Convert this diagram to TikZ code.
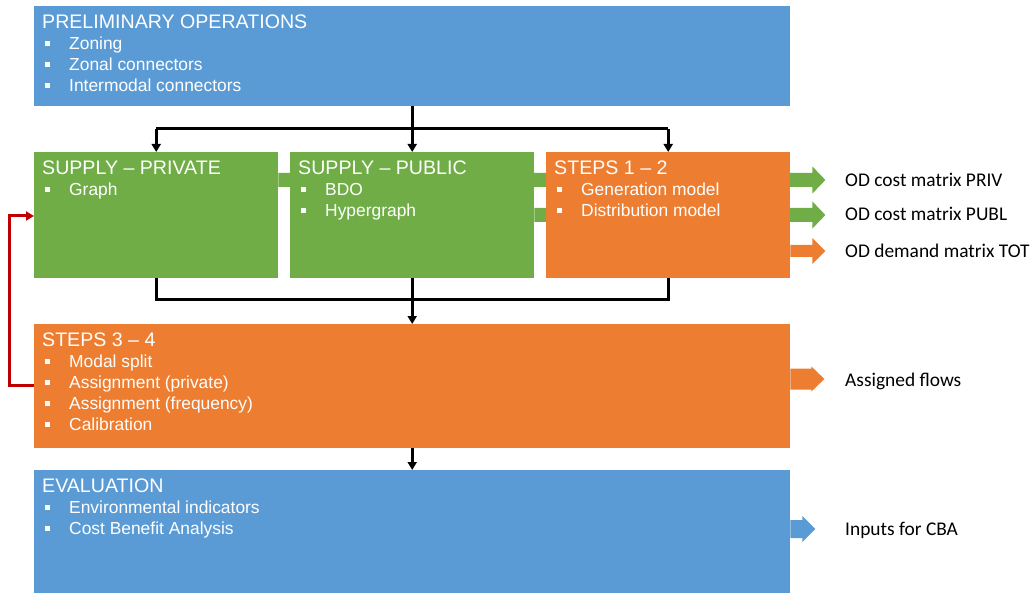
\documentclass[tikz,border=0pt]{standalone}
\usepackage{fontspec}
\setmainfont{Liberation Sans}
\newfontfamily\calibrifont{Carlito}
\usetikzlibrary{arrows.meta,positioning,backgrounds}
\definecolor{planblue}{RGB}{91,155,213}
\definecolor{plangreen}{RGB}{112,173,71}
\definecolor{planorange}{RGB}{237,125,49}
\definecolor{feedred}{RGB}{192,0,0}
\newcommand{\bul}{\hspace*{3pt}\makebox[24pt][l]{\rule[4pt]{4.5pt}{4.5pt}}}
\newcommand{\boxtitle}[1]{{\fontsize{19.6}{21}\selectfont #1}}
% colour, tail, shaft length, head length, half shaft, half head
\newcommand{\fatarrow}[6]{%
  \fill[#1] (#2) ++(0,-#5) -- ++(#3,0) -- ++(0,{#5-#6}) -- ++(#4,#6)
    -- ++(-#4,#6) -- ++(0,{#5-#6}) -- ++(-#3,0) -- cycle;}
\tikzset{
  stage/.style   ={rectangle, inner sep=0pt, anchor=north west, draw=none},
  bstage/.style  ={stage, fill=planblue},
  gstage/.style  ={stage, fill=plangreen},
  ostage/.style  ={stage, fill=planorange},
  stagetxt/.style={anchor=north west, inner sep=0pt, align=left, text=white,
                   font=\fontsize{17.4}{21}\selectfont},
  outlbl/.style  ={anchor=base west, inner sep=0pt, text=black,
                   font=\calibrifont\fontsize{19.4}{21}\selectfont},
  bus/.style     ={line width=3pt, draw=black},
  flow/.style    ={-{Triangle[length=8pt,width=9pt]}, line width=3pt, draw=black},
  feedback/.style={-{Triangle[length=8pt,width=9pt]}, line width=3pt, draw=feedred}
}
\begin{document}
\begin{tikzpicture}[x=1pt, y=-1pt]
\useasboundingbox (0,0) rectangle (1035,593);
% stages
\node[bstage, minimum width=756pt, minimum height=100pt] (prelim) at (34,6) {};
\node[gstage, minimum width=244pt, minimum height=126pt] (supppriv) at (34,152) {};
\node[gstage, minimum width=244pt, minimum height=126pt] (supppubl) at (290,152) {};
\node[ostage, minimum width=244pt, minimum height=126pt] (steps12) at (546,152) {};
\node[ostage, minimum width=756pt, minimum height=124pt] (steps34) at (34,324) {};
\node[bstage, minimum width=756pt, minimum height=123pt] (evaluation) at (34,470) {};

\node[stagetxt] (prelimtxt) at ([shift={(8,9)}]prelim.north west)
  {\boxtitle{PRELIMINARY OPERATIONS}\\ \bul Zoning\\ \bul Zonal connectors\\
   \bul Intermodal connectors};
\node[stagetxt] (supprivtxt) at ([shift={(8,9)}]supppriv.north west)
  {\boxtitle{SUPPLY -- PRIVATE}\\ \bul Graph};
\node[stagetxt] (suppubltxt) at ([shift={(8,9)}]supppubl.north west)
  {\boxtitle{SUPPLY -- PUBLIC}\\ \bul BDO\\ \bul Hypergraph};
\node[stagetxt] (steps12txt) at ([shift={(8,9)}]steps12.north west)
  {\boxtitle{STEPS 1 -- 2}\\ \bul Generation model\\ \bul Distribution model};
\node[stagetxt] (steps34txt) at ([shift={(8,9)}]steps34.north west)
  {\boxtitle{STEPS 3 -- 4}\\ \bul Modal split\\ \bul Assignment (private)\\
   \bul Assignment (frequency)\\ \bul Calibration};
\node[stagetxt] (evaltxt) at ([shift={(8,9)}]evaluation.north west)
  {\boxtitle{EVALUATION}\\ \bul Environmental indicators\\ \bul Cost Benefit Analysis};

% connectors
\draw[bus] (supppriv.north |- 0,129) -- (steps12.north |- 0,129);
\draw[flow] (prelim.south) -- (supppubl.north);
\draw[flow] (supppriv.north |- 0,129) -- (supppriv.north);
\draw[flow] (steps12.north |- 0,129) -- (steps12.north);
\draw[bus] (supppriv.south) -- (supppriv.south |- 0,300) -| (steps12.south);
\draw[flow] (supppubl.south) -- (steps34.north);
\draw[flow] (steps34.south) -- (evaluation.north);
\coordinate (loopcorner) at (9,385);
\draw[feedback] (steps34.west |- loopcorner) -- (loopcorner) |- (supppriv.west |- 0,216);

% outputs
\begin{scope}[on background layer]
\fatarrow{plangreen}{supppriv.east |- 0,180}{534}{13}{7}{13.5}
\fatarrow{plangreen}{supppubl.east |- 0,215}{278}{13}{7}{13.5}
\end{scope}
\fatarrow{planorange}{steps12.east |- 0,251}{22}{13}{6}{13}
\fatarrow{planorange}{steps34.east |- 0,379}{21}{13}{10.5}{12.5}
\fatarrow{planblue}{evaluation.east |- 0,529}{12}{13}{9}{13}

\node[outlbl] (odpriv) at (845,187) {OD cost matrix PRIV};
\node[outlbl] (odpubl) at (845,221) {OD cost matrix PUBL};
\node[outlbl] (odtot) at (845,258) {OD demand matrix TOT};
\node[outlbl] (flows) at (845,386) {Assigned flows};
\node[outlbl] (cbain) at (845,535) {Inputs for CBA};
\end{tikzpicture}
\end{document}
